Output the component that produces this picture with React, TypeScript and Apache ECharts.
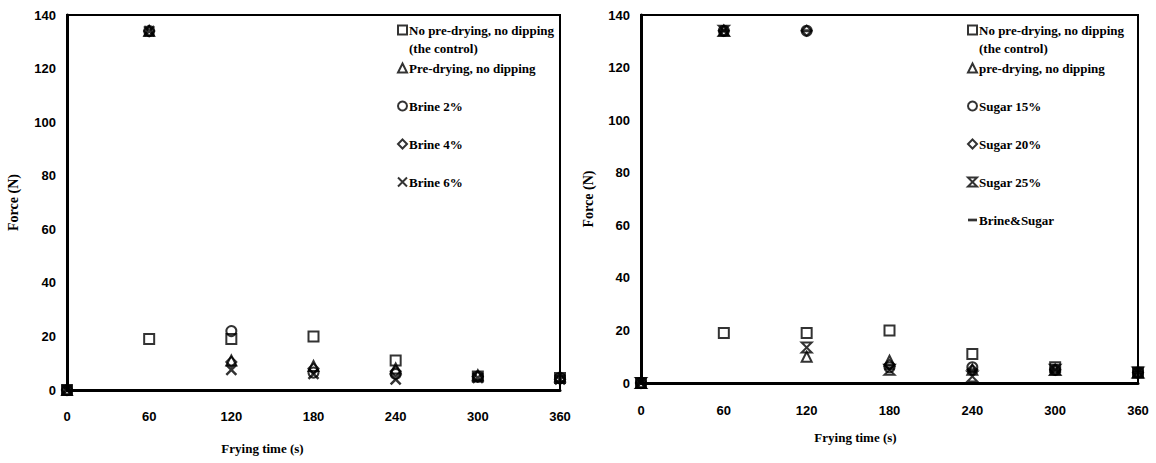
import React, { useEffect, useRef } from "react";
import * as echarts from "echarts";

const times = [0, 60, 120, 180, 240, 300, 360];
const xTicks = [0, 60, 120, 180, 240, 300, 360];
const yTicks = [0, 20, 40, 60, 80, 100, 120, 140];

// Left panel (brine)
const brineNames = [
  "No pre-drying, no dipping",
  "Pre-drying, no dipping",
  "Brine 2%",
  "Brine 4%",
  "Brine 6%",
];
const leftControl = [0, 19, 19, 20, 11, 5, 4.5];
const leftPreDrying = [0, 134, 11, 9, 8, 5.5, 5];
const brine2 = [0, 134, 22, 6.5, 6, 5, 4.5];
const brine4 = [0, 134, 10.5, 8, 7, 5, 4];
const brine6 = [0, 134, 7.5, 6, 4, 4.5, 4];

// Right panel (sugar)
const sugarNames = [
  "No pre-drying, no dipping",
  "pre-drying, no dipping",
  "Sugar 15%",
  "Sugar 20%",
  "Sugar 25%",
  "Brine&Sugar",
];
const rightControl = [0, 19, 19, 20, 11, 6, 4];
const rightPreDrying = [0, 134, 10, 8.5, 5, 5, 4];
const sugar15 = [0, 134, 134, 6, 6, 5, 4];
const sugar20 = [0, 134, 134, 7, 5, 5, 4];
const sugar25 = [0, 134, 13.5, 5, 2.5, 5, 4];
const brineSugar = [0, 134, 134, 5.5, 5, 5, 4];

const X_PATH = "path://M0,0L10,10M10,0L0,10";
const HOURGLASS_PATH = "path://M0,0L10,0L0,10L10,10Z";
const DASH_PATH = "path://M0,0L10,0L10,3L0,3Z";

const serif = "Liberation Serif";
const sans = "Liberation Sans";

function pts(vals: number[]) {
  return times.map((t, i) => [t, vals[i]]);
}

export default function App() {
  const ref = useRef<HTMLDivElement>(null);
  useEffect(() => {
    if (!ref.current) return;
    const chart = echarts.init(ref.current, null, { renderer: "svg" });

    const hollow = {
      color: "rgba(0,0,0,0)",
      borderColor: "#000",
      borderWidth: 2,
    };
    const mk = (
      name: string,
      vals: number[],
      symbol: string,
      idx: number,
      size: any = 10,
      style: any = hollow
    ) => ({
      type: "scatter",
      name,
      xAxisIndex: idx,
      yAxisIndex: idx,
      data: pts(vals),
      symbol,
      symbolSize: size,
      itemStyle: style,
      clip: false,
      z: 3,
    });

    const xAxisBase = (gridIndex: number, margin: number, nameGap: number, padRight: number) => ({
      type: "value",
      gridIndex,
      min: 0,
      max: 360,
      interval: 60,
      axisLine: { show: true, onZero: false, lineStyle: { color: "#000", width: 3 } },
      axisTick: { show: false },
      splitLine: { show: false },
      axisLabel: {
        margin,
        color: "#000",
        fontFamily: sans,
        fontWeight: "bold",
        fontSize: 13,
        formatter: (v: number) => (xTicks.includes(v) ? String(v) : ""),
      },
      name: "Frying time (s)",
      nameLocation: "middle",
      nameGap,
      nameTextStyle: {
        color: "#000",
        fontFamily: serif,
        fontWeight: "bold",
        fontSize: 13,
        padding: [0, padRight, 0, 0],
      },
    });
    const yAxisBase = (gridIndex: number, nameGap: number) => ({
      type: "value",
      gridIndex,
      min: 0,
      max: 140,
      interval: 20,
      axisLine: { show: true, onZero: false, lineStyle: { color: "#000", width: 3 } },
      axisTick: { show: false },
      splitLine: { show: false },
      axisLabel: {
        margin: 11,
        color: "#000",
        fontFamily: sans,
        fontWeight: "bold",
        fontSize: 13,
        formatter: (v: number) => (yTicks.includes(v) ? String(v) : ""),
      },
      name: "Force (N)",
      nameLocation: "middle",
      nameGap,
      nameTextStyle: {
        color: "#000",
        fontFamily: serif,
        fontWeight: "bold",
        fontSize: 14,
      },
    });

    const legendBase = (left: number, data: any[]) => ({
      orient: "vertical",
      left,
      top: 23,
      data,
      itemWidth: 9,
      itemHeight: 9,
      itemGap: 24,
      padding: 0,
      selectedMode: false,
      textStyle: {
        color: "#000",
        fontFamily: serif,
        fontWeight: "bold",
        fontSize: 13,
        lineHeight: 14,
        padding: [0, 0, 0, -3],
      },
    });

    const sugarLegend = sugarNames.map((n) =>
      n === "Brine&Sugar" ? { name: n, icon: DASH_PATH } : { name: n }
    );

    chart.setOption({
      animation: false,
      backgroundColor: "#fff",
      grid: [
        { left: 67, top: 15, width: 493, height: 375, show: true, borderColor: "#000", borderWidth: 2 },
        { left: 641, top: 15, width: 497, height: 368, show: true, borderColor: "#000", borderWidth: 2 },
      ],
      xAxis: [xAxisBase(0, 20, 52, 102), xAxisBase(1, 21, 48, 68)],
      yAxis: [yAxisBase(0, 47), yAxisBase(1, 46)],
      legend: [legendBase(397, brineNames), legendBase(967, sugarLegend)],
      graphic: [
        {
          type: "text",
          left: 409,
          top: 42,
          style: { text: "(the control)", fill: "#000", font: `bold 13px "${serif}"` },
        },
        {
          type: "text",
          left: 979,
          top: 42,
          style: { text: "(the control)", fill: "#000", font: `bold 13px "${serif}"` },
        },
      ],
      series: [
        mk(brineNames[0], leftControl, "rect", 0),
        mk(brineNames[1], leftPreDrying, "triangle", 0),
        mk(brineNames[2], brine2, "circle", 0),
        mk(brineNames[3], brine4, "diamond", 0),
        mk(brineNames[4], brine6, X_PATH, 0, 10, { color: "rgba(0,0,0,0)", borderColor: "#000", borderWidth: 2.5 }),
        mk(sugarNames[0], rightControl, "rect", 1),
        mk(sugarNames[1], rightPreDrying, "triangle", 1),
        mk(sugarNames[2], sugar15, "circle", 1),
        mk(sugarNames[3], sugar20, "diamond", 1),
        mk(sugarNames[4], sugar25, HOURGLASS_PATH, 1, 10, { color: "rgba(0,0,0,0)", borderColor: "#000", borderWidth: 2 }),
        mk(sugarNames[5], brineSugar, "rect", 1, [10, 3], { color: "#000", borderColor: "#000", borderWidth: 0 }),
      ],
    });
    return () => chart.dispose();
  }, []);
  return (
    <div
      ref={ref}
      style={{ position: "fixed", left: 0, top: 0, width: 1156, height: 463, background: "#fff" }}
    />
  );
}
